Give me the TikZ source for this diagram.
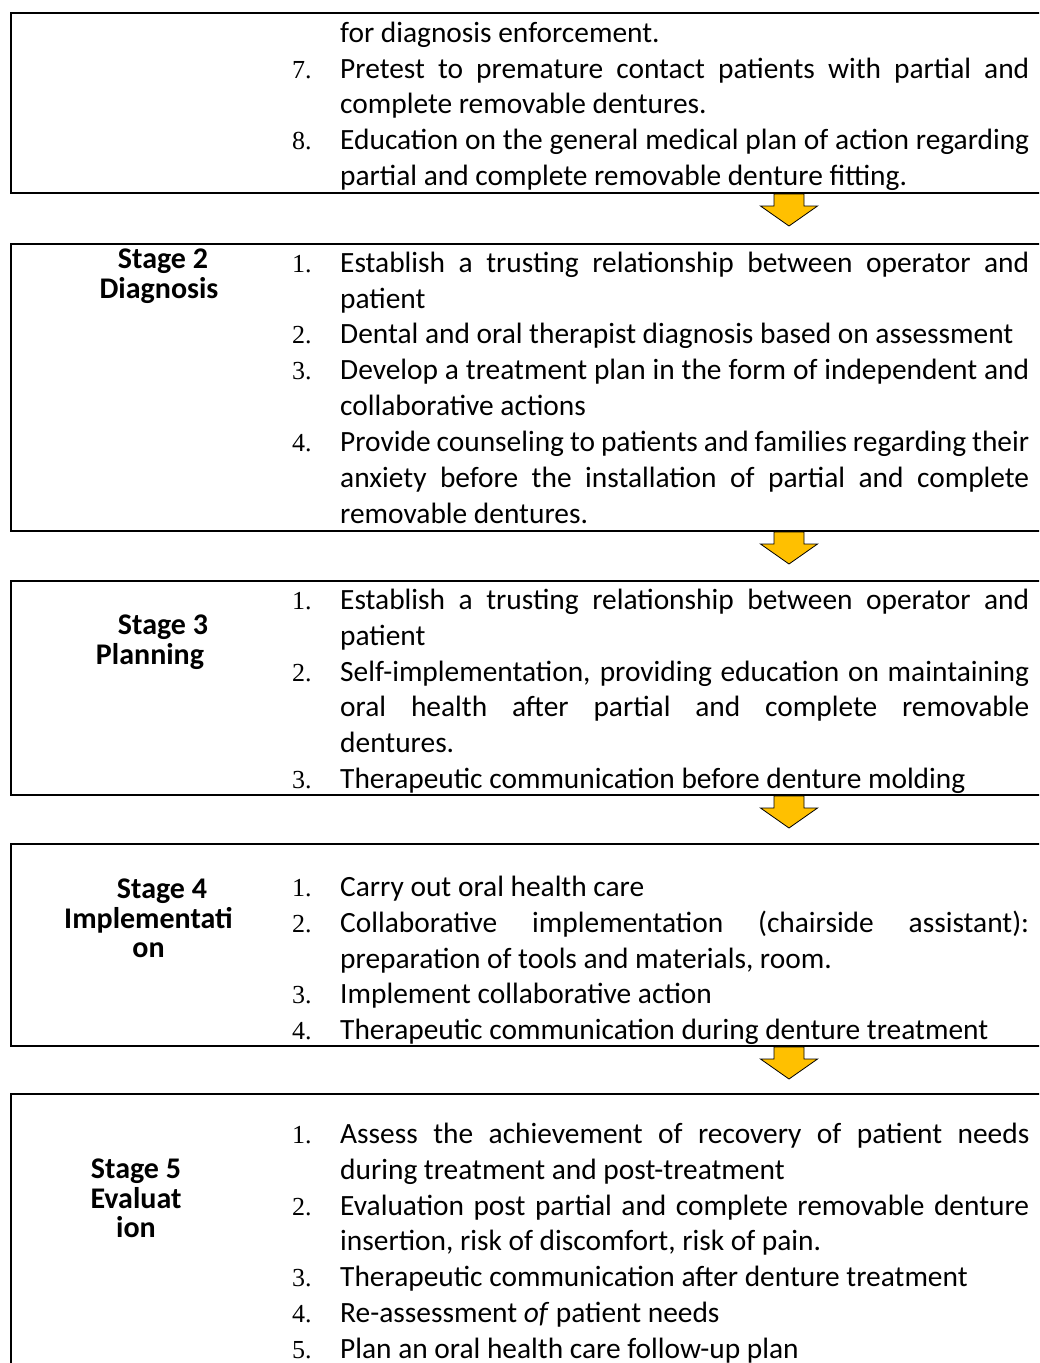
\documentclass[tikz,border=0pt]{standalone}
\usepackage{fontspec}
\setmainfont{Carlito}
\newfontfamily\numfont{Liberation Serif}
\usetikzlibrary{calc}
\setlength{\parindent}{0pt}
\definecolor{arrowyellow}{HTML}{FFC000}
\tikzset{
  stagebox/.style={draw, line width=2pt, inner sep=0pt, anchor=north west, minimum width=1040pt}, % frame of one stage
  stagelabel/.style={font=\bfseries\fontsize{30}{29.2}\selectfont, align=center, inner sep=0pt, anchor=north}, % bold name on the left
  stagetext/.style={text width=737pt, align=justify, inner sep=0pt, anchor=north west,
    font=\fontsize{29.4}{35.85}\selectfont}, % the numbered steps
  blockarrow/.style={fill=arrowyellow, draw=black, line width=0.8pt, line join=miter}, % yellow arrow between stages
}
% one numbered step, number in the serif face, hanging indent
\newcommand{\stp}[2]{\hangindent=48pt\hangafter=1\noindent\makebox[48pt][l]{\numfont\fontsize{26}{35.85}\selectfont #1.}#2\par}
% yellow down arrow hanging from the bottom edge of a box
\newcommand{\stagearrow}[1]{%
  \filldraw[blockarrow] ($(#1)+(-15,0)$) -- ++(0,12) -- ++(-13.5,0) -- ($(#1)+(0,32)$)
    -- ($(#1)+(28.5,12)$) -- ++(-13.5,0) -- ($(#1)+(15,0)$) -- cycle;}

\begin{document}
\begin{tikzpicture}[x=1pt, y=-1pt]
  \useasboundingbox (0,0) rectangle (1039,1363);
  \clip (0,0) rectangle (1039,1363);
  \coordinate (ax) at (789,0);

  % frames
  \node[stagebox, minimum height=180pt] (s1) at (10,12) {};
  \node[stagebox, minimum height=287pt] (s2) at (10,243) {};
  \node[stagebox, minimum height=214pt] (s3) at (10,580) {};
  \node[stagebox, minimum height=202pt] (s4) at (10,843) {};
  \node[stagebox, minimum height=300pt] (s5) at (10,1093) {};

  % stage names
  \node[stagelabel] (l2) at (159,249) {\hspace*{8pt}Stage 2\\Diagnosis};
  \node[stagelabel] (l3) at (150,615) {\hspace*{26pt}Stage 3\\Planning};
  \node[stagelabel] (l4) at (148.5,879) {\hspace*{27pt}Stage 4\\Implementati\\on};
  \node[stagelabel] (l5) at (136,1159) {Stage 5\\Evaluat\\ion};

  % steps
  \node[stagetext] (t1) at (292,17) {\hyphenpenalty=10000\tolerance=10000
    \noindent\hspace*{48pt}\strut for diagnosis enforcement.\par
    \stp{7}{Pretest to premature contact patients with partial and\linebreak complete removable dentures.}
    \stp{8}{Education on the general medical plan of action regarding\linebreak partial and complete removable denture fitting.}};

  \node[stagetext] (t2) at (292,247) {\hyphenpenalty=10000\tolerance=10000
    \stp{1}{\strut Establish a trusting relationship between operator and\linebreak patient}
    \stp{2}{Dental and oral therapist diagnosis based on assessment}
    \stp{3}{Develop a treatment plan in the form of independent and\linebreak collaborative actions}
    \stp{4}{Provide counseling to patients and families regarding their\linebreak anxiety before the installation of partial and complete\linebreak removable dentures.}};

  \node[stagetext] (t3) at (292,584) {\hyphenpenalty=10000\tolerance=10000
    \stp{1}{\strut Establish a trusting relationship between operator and\linebreak patient}
    \stp{2}{Self-implementation, providing education on maintaining\linebreak oral health after partial and complete removable\linebreak dentures.}
    \stp{3}{Therapeutic communication before denture molding}};

  \node[stagetext] (t4) at (292,871) {\hyphenpenalty=10000\tolerance=10000
    \stp{1}{\strut Carry out oral health care}
    \stp{2}{Collaborative implementation (chairside assistant):\linebreak preparation of tools and materials, room.}
    \stp{3}{Implement collaborative action}
    \stp{4}{Therapeutic communication during denture treatment}};

  \node[stagetext] (t5) at (292,1118) {\hyphenpenalty=10000\tolerance=10000
    \stp{1}{\strut Assess the achievement of recovery of patient needs\linebreak during treatment and post-treatment}
    \stp{2}{Evaluation post partial and complete removable denture\linebreak insertion, risk of discomfort, risk of pain.}
    \stp{3}{Therapeutic communication after denture treatment}
    \stp{4}{Re-assessment \textit{of} patient needs}
    \stp{5}{Plan an oral health care follow-up plan}};

  % arrows between the stages
  \stagearrow{s1.south -| ax}
  \stagearrow{s2.south -| ax}
  \stagearrow{s3.south -| ax}
  \stagearrow{s4.south -| ax}
\end{tikzpicture}
\end{document}
